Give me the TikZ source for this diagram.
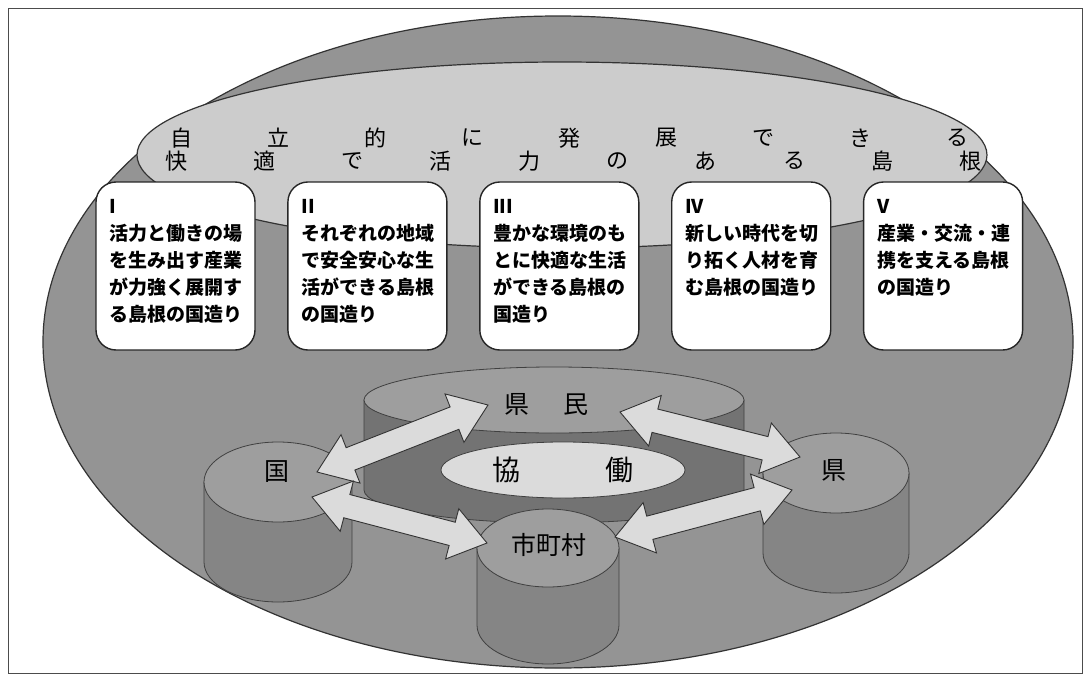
\documentclass[tikz,border=0pt]{standalone}
\usepackage{fontspec}
\newfontfamily\jp{Noto Sans CJK JP}
\usetikzlibrary{positioning,calc}

\definecolor{ovalgray}{gray}{0.58}
\definecolor{bandgray}{gray}{0.80}
\definecolor{drumtopgray}{gray}{0.62}
\definecolor{drumbodygray}{gray}{0.52}
\definecolor{kenmingray}{gray}{0.45}
\definecolor{arrowgray}{gray}{0.86}

% cylinder: centre x, top y, x radius, y radius, height
\newcommand{\drum}[6]{%
  \path[drumbody, fill=#6] (#1-#3,#2) -- (#1-#3,#2+#5)
    arc[start angle=180, end angle=360, x radius=#3pt, y radius=#4pt] -- (#1+#3,#2) -- cycle;
  \path[drumtop] (#1,#2) ellipse[x radius=#3pt, y radius=#4pt];
}
% double arrow between two named coordinates
\newcommand{\dblarrow}[2]{%
  \path[twoway] (#1) -- ($(#1)!36pt!(#2)!26pt!90:(#2)$) -- ($(#1)!36pt!(#2)!12pt!90:(#2)$)
    -- ($(#2)!36pt!(#1)!12pt!-90:(#1)$) -- ($(#2)!36pt!(#1)!26pt!-90:(#1)$) -- (#2)
    -- ($(#2)!36pt!(#1)!26pt!90:(#1)$) -- ($(#2)!36pt!(#1)!12pt!90:(#1)$)
    -- ($(#1)!36pt!(#2)!12pt!-90:(#2)$) -- ($(#1)!36pt!(#2)!26pt!-90:(#2)$) -- cycle;
}

\begin{document}
\begin{tikzpicture}[x=1pt, y=-1pt,
  goal/.style={draw=black!85, line width=1.4pt, fill=white, rounded corners=20pt,
    minimum width=159pt, minimum height=168pt, inner sep=0pt},
  goaltext/.style={anchor=north west, inner sep=0pt, align=left,
    font=\jp\bfseries\fontsize{19}{27}\selectfont},
  titlechar/.style={font=\jp\fontsize{22}{22}\selectfont, inner sep=0pt},
  place/.style={font=\jp\fontsize{25}{25}\selectfont, inner sep=0pt},
  drumbody/.style={draw=black!75, line width=0.8pt},
  drumtop/.style={draw=black!75, line width=0.8pt, fill=drumtopgray},
  twoway/.style={draw=black!80, line width=0.9pt, fill=arrowgray},
]
\useasboundingbox (0,0) rectangle (1090,680);
\draw[black!70, line width=1pt, fill=white] (8,8) rectangle (1082,673);

% Big oval and title band
\filldraw[draw=black!80, line width=1.2pt, fill=ovalgray] (558,342) ellipse[x radius=515pt, y radius=326pt];
\filldraw[draw=black!80, line width=1.2pt, fill=bandgray] (562,155) ellipse[x radius=425pt, y radius=93pt];

\foreach \c [count=\i from 0] in {自,立,的,に,発,展,で,き,る}
  \node[titlechar] (top\i) at (181+97*\i,138) {\c};
\foreach \c [count=\i from 0] in {快,適,で,活,力,の,あ,る,島,根}
  \node[titlechar] (bot\i) at (176+88.3*\i,161) {\c};

% Five goals
\node[goal] (g1) at (175.5,266) {};
\node[goal, right=31.5pt of g1] (g2) {};
\node[goal, right=31.5pt of g2] (g3) {};
\node[goal, right=31.5pt of g3] (g4) {};
\node[goal, right=31.5pt of g4] (g5) {};

\node[goaltext] (t1) at ([shift={(14,18)}]g1.north west) {I\\活力と働きの場\\を生み出す産業\\が力強く展開す\\る島根の国造り};
\node[goaltext] (t2) at ([shift={(14,18)}]g2.north west) {II\\それぞれの地域\\で安全安心な生\\活ができる島根\\の国造り};
\node[goaltext] (t3) at ([shift={(14,18)}]g3.north west) {III\\豊かな環境のも\\とに快適な生活\\ができる島根の\\国造り};
\node[goaltext] (t4) at ([shift={(14,18)}]g4.north west) {IV\\新しい時代を切\\り拓く人材を育\\む島根の国造り};
\node[goaltext] (t5) at ([shift={(14,18)}]g5.north west) {V\\産業・交流・連\\携を支える島根\\の国造り};

% Cylinders
\drum{554}{400}{190}{33}{90}{kenmingray}
\filldraw[draw=black!75, line width=0.8pt, fill=arrowgray] (563,470) ellipse[x radius=122pt, y radius=28pt];
\node[place, font=\jp\fontsize{28}{28}\selectfont] (kyodo) at (563,470) {協\hspace{85pt}働};
\node[place] (kenmin) at (546,404) {県\hspace{34pt}民};

\drum{278}{482}{74}{40}{80}{drumbodygray}
\node[place] (kuni) at (277,472) {国};
\drum{836}{473}{73}{40}{80}{drumbodygray}
\node[place] (ken) at (834,470) {県};
\drum{548}{548}{71}{39}{77}{drumbodygray}
\node[place] (shichoson) at (549,545) {市町村};

% Arrows between partners
\coordinate (a1s) at (317,472); \coordinate (a1e) at (488,405);
\coordinate (a2s) at (620,412); \coordinate (a2e) at (800,457);
\coordinate (a3s) at (312,497); \coordinate (a3e) at (487,543);
\coordinate (a4s) at (615,537); \coordinate (a4e) at (792,490);
\dblarrow{a1s}{a1e}
\dblarrow{a2s}{a2e}
\dblarrow{a3s}{a3e}
\dblarrow{a4s}{a4e}

\end{tikzpicture}
\end{document}
